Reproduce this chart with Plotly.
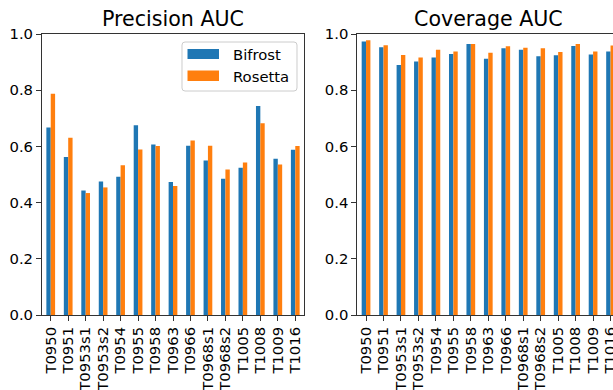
import plotly.graph_objects as go

targets = ["T0950", "T0951", "T0953s1", "T0953s2", "T0954", "T0955", "T0958", "T0963",
           "T0966", "T0968s1", "T0968s2", "T1005", "T1008", "T1009", "T1016"]
precision_bifrost = [0.667, 0.562, 0.443, 0.475, 0.492, 0.675, 0.607, 0.473,
                     0.602, 0.550, 0.485, 0.524, 0.744, 0.556, 0.588]
precision_rosetta = [0.787, 0.631, 0.434, 0.454, 0.533, 0.589, 0.601, 0.459,
                     0.621, 0.602, 0.518, 0.543, 0.682, 0.536, 0.601]
coverage_bifrost = [0.973, 0.953, 0.890, 0.902, 0.916, 0.929, 0.964, 0.912,
                    0.949, 0.944, 0.921, 0.924, 0.957, 0.927, 0.938]
coverage_rosetta = [0.978, 0.960, 0.925, 0.916, 0.944, 0.938, 0.964, 0.933,
                    0.956, 0.951, 0.949, 0.936, 0.964, 0.938, 0.959]
series_names = ["Bifrost", "Rosetta"]
colors = ["#1f77b4", "#ff7f0e"]
y_ticks = [0.0, 0.2, 0.4, 0.6, 0.8, 1.0]

FONT = "DejaVu Sans"
TICK_SIZE = 14.8
TITLE_SIZE = 20.6
AXIS_COLOR = "#333333"
W, H = 613, 390
ML, MR, MT, MB = 42, 0, 34, 75
PW = W - ML - MR
PH = H - MT - MB

def px_x(p):
    return (p - ML) / PW

def px_y(p):
    return (H - MB - p) / PH

idx = list(range(len(targets)))

fig = go.Figure()
for vals, name, col in [(precision_bifrost, series_names[0], colors[0]),
                        (precision_rosetta, series_names[1], colors[1])]:
    fig.add_trace(go.Bar(x=idx, y=vals, name=name, marker=dict(color=col, line=dict(width=0)),
                         xaxis="x", yaxis="y", showlegend=False, offsetgroup=name))
for vals, name, col in [(coverage_bifrost, series_names[0], colors[0]),
                        (coverage_rosetta, series_names[1], colors[1])]:
    fig.add_trace(go.Bar(x=idx, y=vals, name=name, marker=dict(color=col, line=dict(width=0)),
                         xaxis="x2", yaxis="y2", showlegend=False, offsetgroup=name))

common_x = dict(tickmode="array", tickvals=idx, ticktext=targets, tickangle=-90,
                ticks="outside", ticklen=5, tickwidth=1, tickcolor=AXIS_COLOR,
                showline=True, linecolor=AXIS_COLOR, linewidth=1, showgrid=False,
                zeroline=False, ticklabeloverflow="allow", automargin=False,
                tickfont=dict(family=FONT, size=TICK_SIZE, color="black"))
common_y = dict(tickmode="array", tickvals=y_ticks, ticktext=[f"{v:.1f}" for v in y_ticks],
                range=[0, 1], ticks="outside", ticklen=5, tickwidth=1, tickcolor=AXIS_COLOR,
                showline=True, linecolor=AXIS_COLOR, linewidth=1, showgrid=False,
                zeroline=False, automargin=False,
                tickfont=dict(family=FONT, size=TICK_SIZE, color="black"))

fig.update_layout(
    width=W, height=H,
    margin=dict(l=ML, r=MR, t=MT, b=MB, pad=0, autoexpand=False),
    paper_bgcolor="white", plot_bgcolor="white",
    barmode="group", bargap=0.5, bargroupgap=0,
    showlegend=False,
    font=dict(family=FONT, color="black"),
    xaxis=dict(domain=[0, px_x(304)], range=[-0.5, 14.5], mirror=True, anchor="y", **common_x),
    yaxis=dict(domain=[0, 1], mirror=True, anchor="x", **common_y),
    xaxis2=dict(domain=[px_x(357.3), 1], range=[-0.5, 14.14], mirror=True, anchor="y2", **common_x),
    yaxis2=dict(domain=[0, 1], anchor="x2", **common_y),
)

annotations = [
    dict(text="Precision AUC", x=px_x(173), y=1, xref="paper", yref="paper",
         xanchor="center", yanchor="bottom", yshift=1, showarrow=False,
         font=dict(family=FONT, size=TITLE_SIZE, color="black")),
    dict(text="Coverage AUC", x=px_x(488.3), y=1, xref="paper", yref="paper",
         xanchor="center", yanchor="bottom", yshift=1, showarrow=False,
         font=dict(family=FONT, size=TITLE_SIZE, color="black")),
    dict(text=series_names[0], x=px_x(230.5), y=px_y(54), xref="paper", yref="paper",
         xanchor="left", yanchor="middle", showarrow=False,
         font=dict(family=FONT, size=TICK_SIZE, color="black")),
    dict(text=series_names[1], x=px_x(230.5), y=px_y(76), xref="paper", yref="paper",
         xanchor="left", yanchor="middle", showarrow=False,
         font=dict(family=FONT, size=TICK_SIZE, color="black")),
]

# rounded legend frame (pixel coords converted to paper)
bx0, bx1, by0, by1, r = 182, 297, 42, 91, 3
pts = [
    ("M", bx0 + r, by0), ("L", bx1 - r, by0), ("Q", bx1, by0, bx1, by0 + r),
    ("L", bx1, by1 - r), ("Q", bx1, by1, bx1 - r, by1),
    ("L", bx0 + r, by1), ("Q", bx0, by1, bx0, by1 - r),
    ("L", bx0, by0 + r), ("Q", bx0, by0, bx0 + r, by0),
]
path = ""
for p in pts:
    cmd = p[0]
    coords = p[1:]
    parts = []
    for i in range(0, len(coords), 2):
        parts.append(f"{px_x(coords[i]):.5f},{px_y(coords[i + 1]):.5f}")
    path += cmd + " " + " ".join(parts) + " "
path += "Z"

shapes = [
    dict(type="path", xref="paper", yref="paper", path=path,
         line=dict(color="#cccccc", width=1),
         fillcolor="rgba(255,255,255,0.8)", layer="above"),
    dict(type="rect", xref="paper", yref="paper", x0=px_x(187.5), x1=px_x(219),
         y0=px_y(59), y1=px_y(49), line=dict(width=0), fillcolor=colors[0], layer="above"),
    dict(type="rect", xref="paper", yref="paper", x0=px_x(187.5), x1=px_x(219),
         y0=px_y(81), y1=px_y(70.5), line=dict(width=0), fillcolor=colors[1], layer="above"),
]
fig.update_layout(annotations=annotations, shapes=shapes)

fig.write_html("out.html", config={"displayModeBar": False},
               post_script="document.body.style.margin='0';document.body.style.padding='0';document.body.style.overflow='hidden';")
